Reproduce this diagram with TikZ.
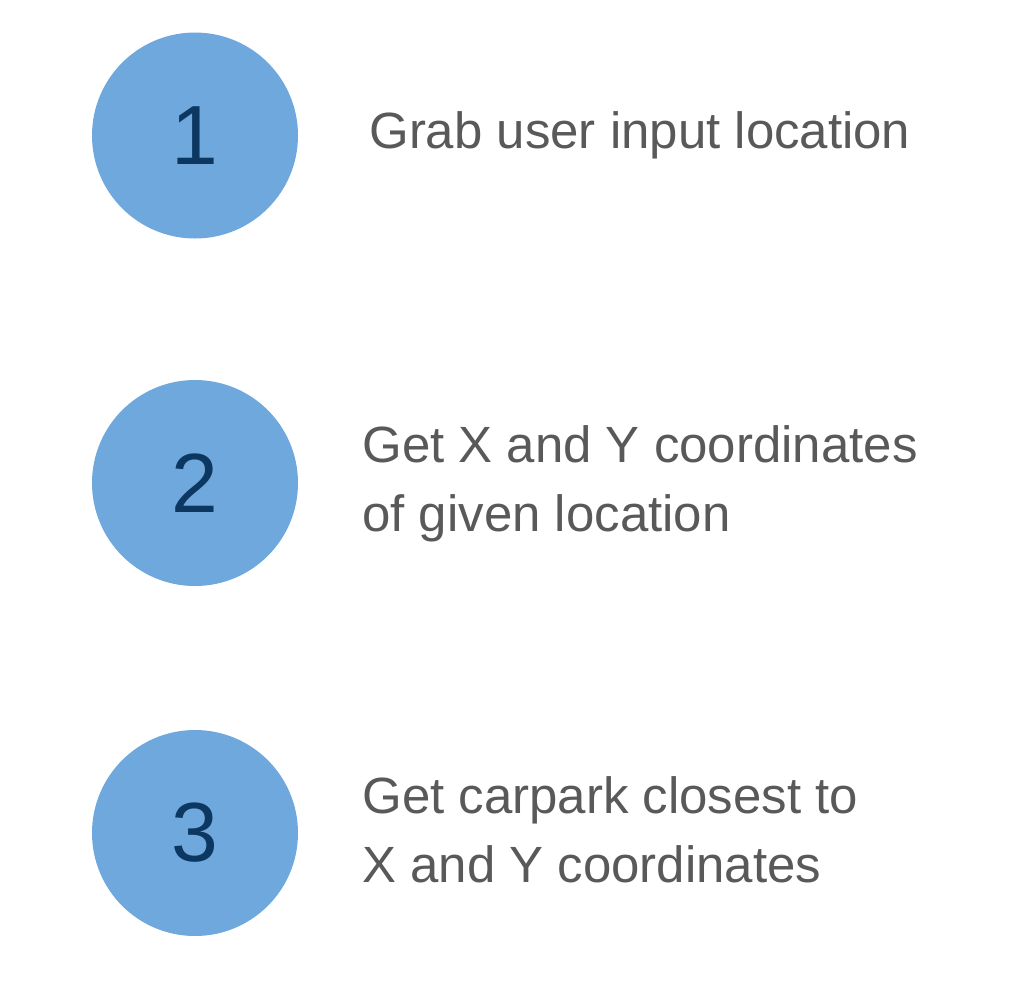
\documentclass[tikz,border=0pt]{standalone}
\usepackage{fontspec}
\setmainfont{Liberation Sans}
\usetikzlibrary{positioning}
\definecolor{disc}{HTML}{6FA8DC}
\definecolor{numink}{HTML}{0B3761}
\definecolor{txt}{HTML}{595959}
\tikzset{
  stepdisc/.style={circle, fill=disc, draw=none, minimum size=4.12cm, inner sep=0pt,
                   text=numink, font=\fontsize{47.8}{50}\selectfont},
  steptxt/.style={anchor=base west, inner sep=0pt, align=left, text=txt,
                  font=\fontsize{29}{39.2}\selectfont},
}

\begin{document}
\begin{tikzpicture}
  % page frame (1010 x 998 px at 0.02 cm per px)
  \useasboundingbox (0,0) rectangle (20.2,-19.96);
  % numbered discs
  \node[stepdisc] (s1) at (3.9,-2.71)  {1};
  \node[stepdisc] (s2) at (3.9,-9.66)  {2};
  \node[stepdisc] (s3) at (3.9,-16.66) {3};
  % step texts (base = last line)
  \node[steptxt] (t1) at (7.38,-2.96)  {Grab user input location};
  \node[steptxt] (t2) at (7.24,-10.62) {Get X and Y coordinates\\of given location};
  \node[steptxt] (t3) at (7.24,-17.64) {Get carpark closest to\\X and Y coordinates};
\end{tikzpicture}
\end{document}
